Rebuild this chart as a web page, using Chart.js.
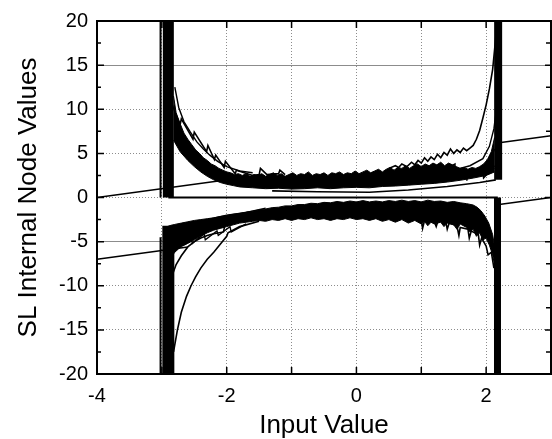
<!DOCTYPE html>
<html><head><meta charset="utf-8">
<script src="https://cdn.jsdelivr.net/npm/chart.js@4.4.1/dist/chart.umd.min.js"></script>
<style>html,body{margin:0;padding:0;background:#fff;}canvas{display:block;}</style>
</head><body>
<canvas id="c" width="552" height="439" style="width:552px;height:439px"></canvas>
<script>
// ---- tick labels / axis values ----
const xTickLabels = ['-4', '-2', '0', '2'];
const yTickLabels = ['-20', '-15', '-10', '-5', '0', '5', '10', '15', '20'];
const xGridValues = [-4, -3, -2, -1, 0, 1, 2, 3];
const yMajorValues = [-20, -15, -10, -5, 0, 5, 10, 15, 20];
const yMinorValues = [-17.5, -12.5, -7.5, -2.5, 2.5, 7.5, 12.5, 17.5];

// ---- straight reference lines ----
const diagUpLeft = [[-4, 0], [-1.45, 2.55]];
const diagUpRight = [[2.2, 6.2], [3, 7.0]];
const diagLowLeft = [[-4, -7], [-2.6, -5.6]];
const diagLowRight = [[2.2, -0.8], [3, 0]];
const zeroLine = [[-2.9, 0], [2.18, 0]];

// ---- vertical saturated bands ----
const thinLeftUp = [[-3.02, 20], [-3.02, 0]];
const thinLeftLow = [[-3.02, -4.5], [-3.02, -20]];
const bandLeftUp = [[-2.9, 20], [-2.9, 0]];
const bandLeftLow = [[-2.9, -3.2], [-2.9, -20]];
const bandRightUp = [[2.185, 20], [2.185, 2.0]];
const bandRightLow = [[2.175, 0], [2.175, -20]];

// ---- upper cluster ----
const upperTop = [[-2.82,11.5],[-2.78,9.6],[-2.72,8.4],[-2.66,7.3],[-2.6,6.6],[-2.54,6.0],[-2.48,5.4],[-2.42,5.0],[-2.36,4.5],[-2.3,4.2],
 [-2.24,3.8],[-2.18,3.6],[-2.12,3.3],[-2.06,3.1],[-2.0,2.9],[-1.94,2.8],[-1.88,2.6],[-1.82,2.7],[-1.76,2.5],[-1.7,2.7],
 [-1.64,2.4],[-1.58,2.6],[-1.52,2.5],[-1.46,2.7],[-1.4,2.4],[-1.34,2.6],[-1.28,2.8],[-1.22,2.5],[-1.16,2.7],[-1.1,2.4],
 [-1.04,2.6],[-0.98,2.8],[-0.92,2.5],[-0.86,2.7],[-0.8,2.6],[-0.74,2.9],[-0.68,2.5],[-0.62,2.7],[-0.56,2.6],[-0.5,2.8],
 [-0.44,2.5],[-0.38,2.8],[-0.32,2.7],[-0.26,2.9],[-0.2,2.6],[-0.14,2.8],[-0.08,2.7],[-0.02,3.0],[0.04,2.7],[0.1,2.9],
 [0.16,3.1],[0.22,2.8],[0.28,3.0],[0.34,3.2],[0.4,2.9],[0.46,3.2],[0.52,3.4],[0.58,3.1],[0.64,3.4],[0.7,3.3],
 [0.76,3.6],[0.82,3.3],[0.88,3.6],[0.94,3.8],[1.0,3.5],[1.06,3.8],[1.12,3.6],[1.18,3.9],[1.24,3.7],[1.3,4.0],
 [1.36,3.6],[1.42,3.9],[1.48,3.7],[1.54,3.5],[1.6,3.3],[1.66,3.4],[1.72,3.2],[1.78,3.4],[1.84,3.3],[1.9,3.5],
 [1.96,3.8],[2.02,4.3],[2.08,5.2],[2.13,6.8]];
const upperBottom = [[-2.82,6.5],[-2.72,5.2],[-2.6,4.2],[-2.5,3.5],[-2.4,2.9],[-2.3,2.4],[-2.2,2.0],[-2.1,1.7],[-2.0,1.5],[-1.9,1.35],
 [-1.8,1.2],[-1.6,1.1],[-1.4,1.0],[-1.2,1.05],[-1.0,0.95],[-0.8,1.0],[-0.6,1.1],[-0.4,1.0],[-0.2,1.1],[0,1.15],
 [0.2,1.1],[0.4,1.25],[0.6,1.3],[0.8,1.4],[1.0,1.5],[1.2,1.6],[1.4,1.75],[1.6,1.95],[1.8,2.2],[2.0,2.5],[2.13,2.9]];
const upperLowLine = [[-1.3,0.75],[-0.6,0.65],[0.2,0.6],[0.8,0.85],[1.4,1.25],[1.9,1.7],[2.15,2.0]];
const upperSaw = [[-2.84,10.5],[-2.72,8.2],[-2.7,8.9],[-2.52,6.6],[-2.5,7.4],[-2.31,5.2],[-2.29,5.9],[-2.19,4.3],[-2.17,4.8],[-2.04,3.4],
 [-2.02,4.1],[-1.87,2.7],[-1.85,3.1],[-1.6,2.5],[-1.5,2.6],[-1.48,3.3],[-1.38,2.6],[-1.2,2.7],[-1.18,3.1],[-1.1,2.6]];
const upperFan = [[-2.8,12.5],[-2.74,10.2],[-2.66,8.6],[-2.56,7.4],[-2.46,6.3],[-2.36,5.5],[-2.26,4.8],[-2.14,4.1],[-2.0,3.5],[-1.8,3.0],[-1.6,2.8]];
const upperNoisyTop = [[0.5,3.3],[0.6,3.6],[0.65,3.4],[0.7,3.8],[0.78,3.5],[0.85,4.0],[0.9,3.7],[0.95,4.2],[1.0,3.9],[1.05,4.5],
 [1.1,4.1],[1.15,4.6],[1.2,4.3],[1.25,4.9],[1.3,4.5],[1.35,5.1],[1.4,4.8],[1.45,5.5],[1.5,5.0],[1.55,5.4],
 [1.6,5.1],[1.65,5.6],[1.7,5.3],[1.75,5.6],[1.8,5.9],[1.85,6.6],[1.9,7.6],[1.95,9.0],[2.0,10.5],[2.05,12.3],
 [2.1,14.5],[2.14,17.5],[2.17,20]];
const upperZig1 = [[1.05,1.9],[1.52,3.8],[1.52,2.3],[1.95,3.0],[1.96,2.2],[2.13,3.6]];
const upperZig2 = [[1.2,2.0],[1.6,2.7],[1.9,3.3],[2.05,4.0],[2.13,5.5]];
const upperZig3 = [[1.4,2.9],[1.75,3.6],[1.95,4.4],[2.05,5.8],[2.12,7.8],[2.15,9.5]];
const upperZig4 = [[1.7,1.9],[1.72,2.6],[2.13,3.3]];

// ---- lower cluster ----
const lowerTop = [[-2.92,-3.3],[-2.86,-3.15],[-2.8,-3.05],[-2.7,-2.9],[-2.6,-2.75],[-2.5,-2.6],[-2.4,-2.5],[-2.3,-2.4],[-2.2,-2.3],[-2.1,-2.15],
 [-2.0,-2.05],[-1.9,-1.9],[-1.8,-1.8],[-1.7,-1.65],[-1.6,-1.55],[-1.5,-1.4],[-1.4,-1.3],[-1.3,-1.15],[-1.2,-1.1],[-1.1,-0.95],
 [-1.0,-0.95],[-0.9,-0.8],[-0.8,-0.8],[-0.7,-0.65],[-0.6,-0.7],[-0.5,-0.55],[-0.4,-0.6],[-0.3,-0.45],[-0.2,-0.55],[-0.1,-0.4],
 [0,-0.5],[0.1,-0.35],[0.2,-0.5],[0.3,-0.4],[0.4,-0.5],[0.5,-0.35],[0.6,-0.45],[0.7,-0.3],[0.8,-0.45],[0.9,-0.35],
 [1.0,-0.5],[1.1,-0.3],[1.2,-0.45],[1.3,-0.4],[1.4,-0.55],[1.5,-0.45],[1.6,-0.6],[1.7,-0.7],[1.8,-0.85],[1.86,-1.1],
 [1.92,-1.5],[1.98,-2.1],[2.04,-2.9],[2.1,-4.2],[2.14,-6.0]];
const lowerBottom = [[-2.92,-7.5],[-2.86,-6.8],[-2.8,-6.2],[-2.74,-5.8],[-2.68,-5.5],[-2.6,-5.2],[-2.5,-4.8],[-2.4,-4.4],[-2.3,-4.0],[-2.2,-3.7],
 [-2.1,-3.5],[-2.0,-3.3],[-1.9,-3.1],[-1.8,-2.9],[-1.7,-2.8],[-1.6,-2.7],[-1.5,-2.6],[-1.4,-2.7],[-1.3,-2.5],[-1.2,-2.6],
 [-1.1,-2.4],[-1.0,-2.6],[-0.9,-2.4],[-0.8,-2.5],[-0.7,-2.3],[-0.6,-2.5],[-0.5,-2.4],[-0.4,-2.6],[-0.3,-2.4],[-0.2,-2.5],
 [-0.1,-2.3],[0,-2.5],[0.1,-2.4],[0.2,-2.6],[0.3,-2.4],[0.4,-2.7],[0.5,-2.5],[0.6,-2.8],[0.7,-2.5],[0.8,-2.9],
 [0.9,-2.6],[1.0,-3.0],[1.05,-2.7],[1.1,-3.2],[1.15,-2.8],[1.2,-3.0],[1.3,-2.8],[1.35,-3.3],[1.4,-2.9],[1.5,-3.1],
 [1.55,-3.6],[1.6,-3.0],[1.7,-3.4],[1.75,-3.9],[1.8,-3.6],[1.85,-4.4],[1.9,-4.0],[1.95,-4.8],[2.0,-4.6],[2.05,-5.4],
 [2.1,-6.5],[2.14,-8]];
const lowerSpikes = [[0.9,-2.4],[1.0,-2.5],[1.02,-3.5],[1.05,-2.6],[1.2,-2.7],[1.23,-3.3],[1.26,-2.6],[1.38,-2.8],[1.4,-3.6],[1.43,-2.9],
 [1.55,-3.2],[1.58,-4.3],[1.6,-3.4],[1.72,-3.6],[1.74,-4.6],[1.77,-3.8],[1.88,-4.2],[1.9,-5.4],[1.93,-4.6],[2.0,-5.5],
 [2.03,-6.5],[2.08,-6.2],[2.12,-8]];
const lowerLong = [[-2.82,-17.5],[-2.76,-15.0],[-2.7,-13.0],[-2.62,-11.2],[-2.55,-10.0],[-2.48,-9.0],[-2.4,-8.0],[-2.3,-7.0],[-2.2,-6.2],[-2.1,-5.3],
 [-2.0,-4.4],[-1.98,-4.0],[-1.8,-3.3],[-1.5,-2.7]];
const lowerCurve2 = [[-2.84,-8.8],[-2.78,-7.6],[-2.7,-6.6],[-2.6,-5.6],[-2.5,-5.0],[-2.4,-4.6],[-2.3,-4.3],[-2.2,-4.1],[-2.05,-3.9],[-2.03,-3.2],[-1.9,-3.0]];
const lowerRise1 = [[-2.7,-4.9],[-2.4,-3.9],[-2.1,-2.9],[-1.8,-2.2],[-1.5,-1.7],[-1.1,-1.35]];
const lowerRise2 = [[-2.6,-3.2],[-2.3,-2.5],[-2.0,-2.0],[-1.7,-1.7],[-1.4,-1.2]];
const lowerSaw = [[-2.75,-5.5],[-2.55,-4.4],[-2.53,-5.2],[-2.35,-4.1],[-2.33,-4.8],[-2.15,-3.8],[-2.13,-4.3],[-1.95,-3.3],[-1.93,-3.9],[-1.7,-3.0]];

// ---- build datasets ----
function ds(pairs, width, extra) {
  return Object.assign({
    data: pairs.map(p => ({x: p[0], y: p[1]})),
    borderColor: '#000', backgroundColor: '#000',
    borderWidth: width, pointRadius: 0, fill: false, tension: 0,
    borderCapStyle: 'butt', borderJoinStyle: 'miter'
  }, extra || {});
}
const datasets = [
  ds(upperTop, 1, {fill: '+1'}),
  ds(upperBottom, 1),
  ds(lowerTop, 1, {fill: '+1'}),
  ds(lowerBottom, 1),
  ds(diagUpLeft, 1.6), ds(diagUpRight, 1.6), ds(diagLowLeft, 1.6), ds(diagLowRight, 1.6),
  ds(zeroLine, 2),
  ds(thinLeftUp, 2), ds(thinLeftLow, 2),
  ds(bandLeftUp, 11), ds(bandLeftLow, 12), ds(bandRightUp, 8), ds(bandRightLow, 7),
  ds(upperLowLine, 1.6), ds(upperSaw, 1.6), ds(upperFan, 1.4), ds(upperNoisyTop, 1.6),
  ds(upperZig1, 1.4), ds(upperZig2, 1.4), ds(upperZig3, 1.4), ds(upperZig4, 1.4),
  ds(lowerSpikes, 1.6), ds(lowerLong, 1.6), ds(lowerCurve2, 1.6), ds(lowerRise1, 1.4), ds(lowerRise2, 1.4), ds(lowerSaw, 1.4)
];

// ---- frame + inward ticks drawn from the scales ----
const frameTicks = {
  id: 'frameTicks',
  afterDatasetsDraw(chart) {
    const {ctx, chartArea: a, scales: {x, y}} = chart;
    ctx.save();
    ctx.strokeStyle = '#000';
    ctx.lineWidth = 2;
    ctx.strokeRect(a.left, a.top, a.right - a.left, a.bottom - a.top);
    ctx.lineWidth = 1.5;
    ctx.beginPath();
    xGridValues.forEach(v => {
      const px = x.getPixelForValue(v);
      ctx.moveTo(px, a.bottom); ctx.lineTo(px, a.bottom - 7);
      ctx.moveTo(px, a.top); ctx.lineTo(px, a.top + 7);
    });
    yMajorValues.forEach(v => {
      const py = y.getPixelForValue(v);
      ctx.moveTo(a.left, py); ctx.lineTo(a.left + 7, py);
      ctx.moveTo(a.right, py); ctx.lineTo(a.right - 6, py);
    });
    yMinorValues.forEach(v => {
      const py = y.getPixelForValue(v);
      ctx.moveTo(a.left, py); ctx.lineTo(a.left + 4, py);
      ctx.moveTo(a.right, py); ctx.lineTo(a.right - 5, py);
    });
    ctx.stroke();
    ctx.restore();
  }
};

const FONT = 'Liberation Sans, Arial, Helvetica, sans-serif';
new Chart(document.getElementById('c'), {
  type: 'line',
  data: {datasets},
  options: {
    responsive: false, animation: false, devicePixelRatio: 1,
    layout: {padding: {top: 21, right: 1, left: 0, bottom: 0}},
    plugins: {legend: {display: false}, tooltip: {enabled: false}},
    scales: {
      x: {
        type: 'linear', min: -4, max: 3,
        afterFit: s => { s.height = 65; s.paddingRight = 0; s.paddingLeft = 0; },
        ticks: {
          stepSize: 1, autoSkip: false, maxRotation: 0, padding: 10, color: '#000',
          font: {family: FONT, size: 20},
          callback: v => xTickLabels.includes(String(v)) ? String(v) : ''
        },
        grid: {color: '#8c8c8c', lineWidth: 1, drawTicks: false},
        border: {display: false, dash: [1, 2]},
        title: {display: true, text: 'Input Value', color: '#000',
          font: {family: FONT, size: 26, lineHeight: 1.0}, padding: {top: 0, bottom: 0}}
      },
      y: {
        type: 'linear', min: -20, max: 20,
        afterFit: s => { s.width = 97; },
        ticks: {
          stepSize: 5, autoSkip: false, padding: 9, color: '#000',
          font: {family: FONT, size: 20},
          callback: v => yTickLabels.includes(String(v)) ? String(v) : ''
        },
        grid: {color: '#8c8c8c', lineWidth: 1, drawTicks: false},
        border: {display: false, dash: ctx => (ctx.tick && (ctx.tick.value === 15 || ctx.tick.value === -5)) ? [] : [1, 2]},
        title: {display: true, text: 'SL Internal Node Values', color: '#000',
          font: {family: FONT, size: 26, lineHeight: 1.0}, padding: {top: 16, bottom: 0}}
      }
    }
  },
  plugins: [frameTicks]
});
</script>
</body></html>
